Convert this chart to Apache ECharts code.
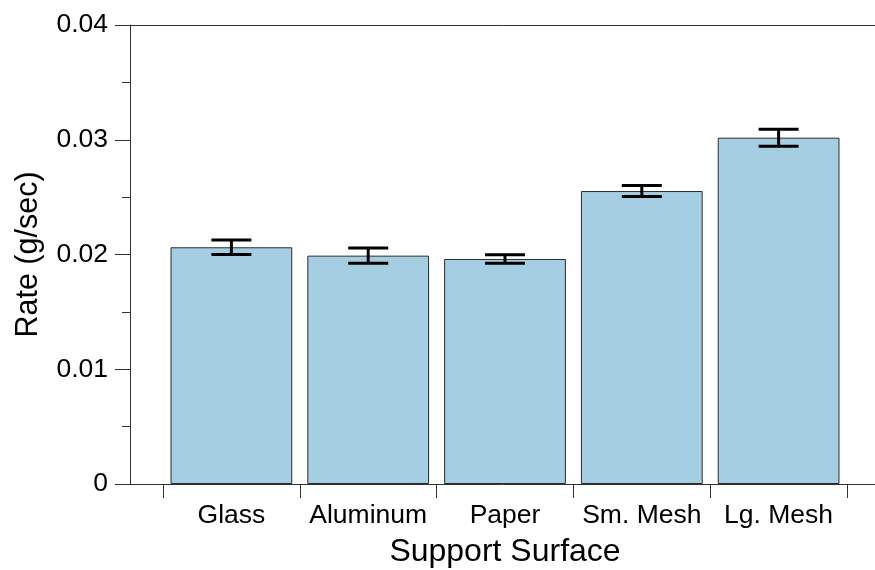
<!DOCTYPE html>
<html>
<head>
<meta charset="utf-8">
<script src="https://cdn.jsdelivr.net/npm/echarts@6/dist/echarts.min.js"></script>
<style>
  html, body { margin: 0; padding: 0; background: #fff; }
  #chart { width: 875px; height: 570px; }
</style>
</head>
<body>
<div id="chart"></div>
<script>
// Drying rate by support surface (mean ± error)
const surfaces = ['Glass', 'Aluminum', 'Paper', 'Sm. Mesh', 'Lg. Mesh'];
const rates = [0.02063, 0.01990, 0.01961, 0.02553, 0.03018];
const rateErrors = [0.00064, 0.00067, 0.00037, 0.00048, 0.00074];
const yTicks = [0, 0.01, 0.02, 0.03, 0.04];

const FONT = '"Liberation Sans", Arial, Helvetica, sans-serif';
const AXIS_COLOR = '#333';

const errorData = surfaces.map((s, i) => [i, rates[i] - rateErrors[i], rates[i] + rateErrors[i]]);

const chart = echarts.init(document.getElementById('chart'), null, { renderer: 'canvas' });

chart.setOption({
  animation: false,
  backgroundColor: '#ffffff',
  grid: [
    // frame grid: y axis, bottom and top rules
    { left: 130, right: 0, top: 25, bottom: 86, containLabel: false, outerBoundsMode: 'none' },
    // bar grid: category slots
    { left: 163, right: 28, top: 25, bottom: 86, containLabel: false, outerBoundsMode: 'none' }
  ],
  xAxis: [
    {
      type: 'value', gridIndex: 0, position: 'bottom', min: 0, max: 1,
      axisLine: { show: true, lineStyle: { color: AXIS_COLOR, width: 1 } },
      axisTick: { show: false }, axisLabel: { show: false }, splitLine: { show: false }
    },
    {
      type: 'value', gridIndex: 0, position: 'top', min: 0, max: 1,
      axisLine: { show: true, lineStyle: { color: AXIS_COLOR, width: 1 } },
      axisTick: { show: false }, axisLabel: { show: false }, splitLine: { show: false }
    },
    {
      type: 'category', gridIndex: 1, data: surfaces, boundaryGap: true,
      axisLine: { show: false },
      axisTick: { show: true, length: 14, lineStyle: { color: AXIS_COLOR, width: 1 } },
      axisLabel: { interval: 0, margin: 18, color: '#000', fontSize: 26.5, fontFamily: FONT },
      splitLine: { show: false },
      name: 'Support Surface', nameLocation: 'middle', nameGap: 52,
      nameTextStyle: { color: '#000', fontSize: 32, fontFamily: FONT }
    }
  ],
  yAxis: [
    {
      type: 'value', gridIndex: 0, min: yTicks[0], max: yTicks[yTicks.length - 1], interval: 0.01,
      axisLine: { show: true, lineStyle: { color: AXIS_COLOR, width: 1 } },
      axisTick: { show: true, length: 15, lineStyle: { color: AXIS_COLOR, width: 1 } },
      minorTick: { show: true, splitNumber: 2, length: 8, lineStyle: { color: AXIS_COLOR, width: 1 } },
      axisLabel: { margin: 22, color: '#000', fontSize: 26.5, fontFamily: FONT },
      splitLine: { show: false },
      name: 'Rate (g/sec)', nameLocation: 'middle', nameGap: 86,
      nameTextStyle: { color: '#000', fontSize: 30.5, fontFamily: FONT }
    },
    {
      type: 'value', gridIndex: 1, min: yTicks[0], max: yTicks[yTicks.length - 1], interval: 0.01,
      show: false
    }
  ],
  series: [
    {
      type: 'bar', xAxisIndex: 2, yAxisIndex: 1,
      data: rates,
      barCategoryGap: '11%',
      itemStyle: { color: '#a6cee2', borderColor: '#2b2b2b', borderWidth: 1 }
    },
    {
      type: 'custom', xAxisIndex: 2, yAxisIndex: 1,
      data: errorData,
      encode: { x: 0, y: [1, 2] },
      renderItem: function (params, api) {
        const idx = api.value(0);
        const lo = api.coord([idx, api.value(1)]);
        const hi = api.coord([idx, api.value(2)]);
        const half = 20;
        const style = { stroke: '#000', lineWidth: 3 };
        return {
          type: 'group',
          children: [
            { type: 'line', shape: { x1: hi[0], y1: hi[1], x2: lo[0], y2: lo[1] }, style: style },
            { type: 'line', shape: { x1: hi[0] - half, y1: hi[1], x2: hi[0] + half, y2: hi[1] }, style: style },
            { type: 'line', shape: { x1: lo[0] - half, y1: lo[1], x2: lo[0] + half, y2: lo[1] }, style: style }
          ]
        };
      },
      z: 10
    }
  ]
});
</script>
</body>
</html>
